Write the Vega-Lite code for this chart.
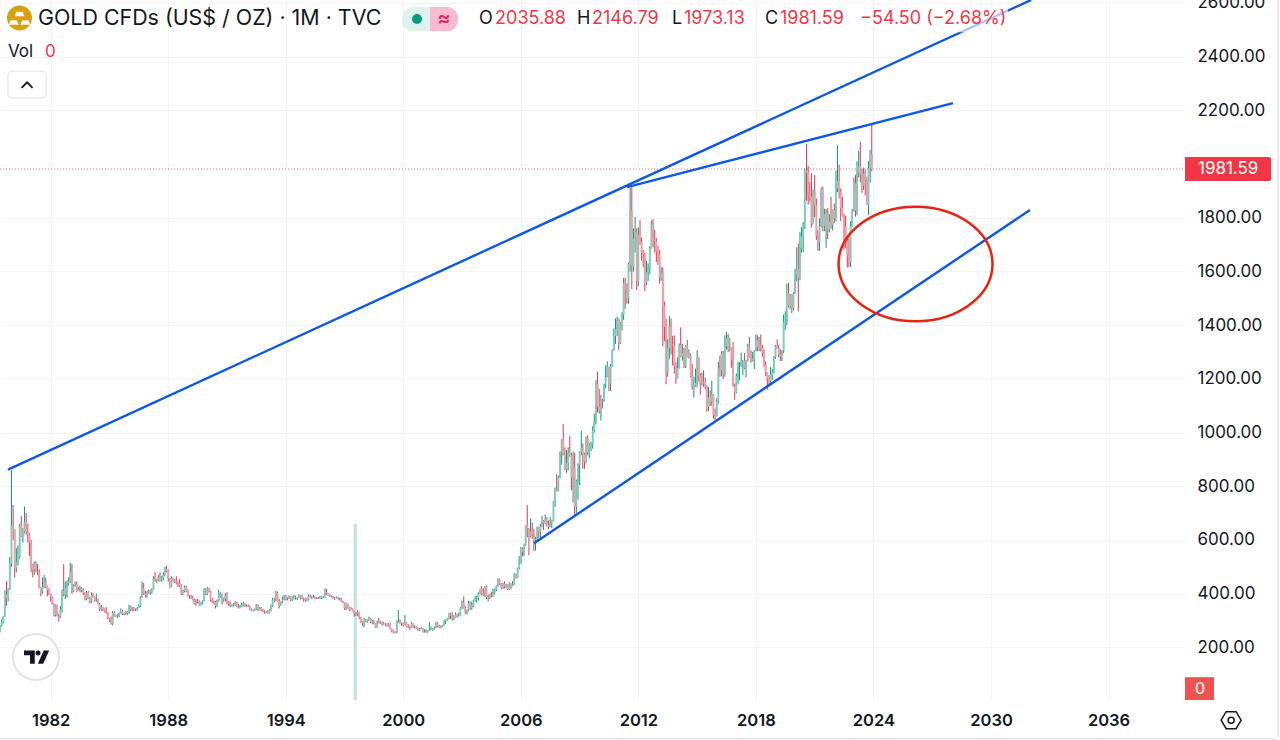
{
"$schema":"https://vega.github.io/schema/vega-lite/v6.json",
"width":1185,"height":700,
"autosize":{"type":"none"},
"padding":{"left":0,"top":0,"right":95,"bottom":40},
"background":"#ffffff",
"config":{"view":{"stroke":null},"font":"Inter"},
"datasets":{"candles":[
{"date":"1979-06","o":258,"h":283,"l":256,"c":278},{"date":"1979-07","o":278,"h":304,"l":277,"c":296},{"date":"1979-08","o":296,"h":316,"l":289,"c":315},{"date":"1979-09","o":315,"h":412,"l":315,"c":397},{"date":"1979-10","o":397,"h":447,"l":355,"c":382},{"date":"1979-11","o":382,"h":420,"l":372,"c":416},{"date":"1979-12","o":416,"h":537,"l":415,"c":512},
{"date":"1980-01","o":512,"h":860,"l":500,"c":653},{"date":"1980-02","o":653,"h":730,"l":600,"c":637},{"date":"1980-03","o":637,"h":640,"l":460,"c":494},{"date":"1980-04","o":494,"h":570,"l":480,"c":517},{"date":"1980-05","o":517,"h":580,"l":505,"c":535},{"date":"1980-06","o":535,"h":660,"l":530,"c":653},{"date":"1980-07","o":653,"h":690,"l":610,"c":614},{"date":"1980-08","o":614,"h":645,"l":590,"c":631},{"date":"1980-09","o":631,"h":725,"l":625,"c":667},{"date":"1980-10","o":667,"h":700,"l":620,"c":630},{"date":"1980-11","o":630,"h":660,"l":590,"c":620},{"date":"1980-12","o":620,"h":625,"l":540,"c":590},
{"date":"1981-01","o":590,"h":600,"l":480,"c":506},{"date":"1981-02","o":506,"h":510,"l":460,"c":490},{"date":"1981-03","o":490,"h":520,"l":470,"c":513},{"date":"1981-04","o":513,"h":520,"l":480,"c":483},{"date":"1981-05","o":483,"h":510,"l":470,"c":480},{"date":"1981-06","o":480,"h":490,"l":420,"c":422},{"date":"1981-07","o":422,"h":425,"l":390,"c":408},{"date":"1981-08","o":408,"h":460,"l":400,"c":425},{"date":"1981-09","o":425,"h":470,"l":420,"c":443},{"date":"1981-10","o":443,"h":460,"l":420,"c":428},{"date":"1981-11","o":428,"h":430,"l":390,"c":414},{"date":"1981-12","o":414,"h":420,"l":395,"c":400},
{"date":"1982-01","o":400,"h":400,"l":370,"c":387},{"date":"1982-02","o":387,"h":390,"l":360,"c":363},{"date":"1982-03","o":363,"h":365,"l":315,"c":320},{"date":"1982-04","o":320,"h":360,"l":315,"c":358},{"date":"1982-05","o":358,"h":360,"l":315,"c":318},{"date":"1982-06","o":318,"h":325,"l":296,"c":316},{"date":"1982-07","o":316,"h":355,"l":310,"c":342},{"date":"1982-08","o":342,"h":415,"l":330,"c":410},{"date":"1982-09","o":410,"h":510,"l":390,"c":397},{"date":"1982-10","o":397,"h":445,"l":380,"c":423},{"date":"1982-11","o":423,"h":450,"l":385,"c":440},{"date":"1982-12","o":440,"h":460,"l":430,"c":447},
{"date":"1983-01","o":447,"h":515,"l":440,"c":480},{"date":"1983-02","o":480,"h":512,"l":400,"c":410},{"date":"1983-03","o":410,"h":435,"l":405,"c":430},{"date":"1983-04","o":430,"h":445,"l":425,"c":435},{"date":"1983-05","o":435,"h":445,"l":405,"c":410},{"date":"1983-06","o":410,"h":425,"l":410,"c":416},{"date":"1983-07","o":416,"h":430,"l":405,"c":420},{"date":"1983-08","o":420,"h":425,"l":405,"c":414},{"date":"1983-09","o":414,"h":420,"l":395,"c":402},{"date":"1983-10","o":402,"h":405,"l":375,"c":382},{"date":"1983-11","o":382,"h":410,"l":375,"c":405},{"date":"1983-12","o":405,"h":410,"l":380,"c":382},
{"date":"1984-01","o":382,"h":388,"l":365,"c":372},{"date":"1984-02","o":372,"h":405,"l":365,"c":395},{"date":"1984-03","o":395,"h":402,"l":385,"c":388},{"date":"1984-04","o":388,"h":390,"l":370,"c":376},{"date":"1984-05","o":376,"h":400,"l":370,"c":378},{"date":"1984-06","o":378,"h":382,"l":360,"c":362},{"date":"1984-07","o":362,"h":365,"l":335,"c":342},{"date":"1984-08","o":342,"h":358,"l":335,"c":348},{"date":"1984-09","o":348,"h":350,"l":335,"c":343},{"date":"1984-10","o":343,"h":345,"l":330,"c":333},{"date":"1984-11","o":333,"h":350,"l":325,"c":330},{"date":"1984-12","o":330,"h":332,"l":305,"c":308},
{"date":"1985-01","o":308,"h":310,"l":295,"c":303},{"date":"1985-02","o":303,"h":315,"l":285,"c":288},{"date":"1985-03","o":288,"h":335,"l":282,"c":328},{"date":"1985-04","o":328,"h":335,"l":315,"c":320},{"date":"1985-05","o":320,"h":320,"l":312,"c":315},{"date":"1985-06","o":315,"h":325,"l":310,"c":318},{"date":"1985-07","o":318,"h":330,"l":312,"c":327},{"date":"1985-08","o":327,"h":345,"l":325,"c":335},{"date":"1985-09","o":335,"h":340,"l":320,"c":325},{"date":"1985-10","o":325,"h":330,"l":320,"c":327},{"date":"1985-11","o":327,"h":335,"l":320,"c":332},{"date":"1985-12","o":332,"h":335,"l":320,"c":327},
{"date":"1986-01","o":327,"h":360,"l":325,"c":350},{"date":"1986-02","o":350,"h":355,"l":335,"c":340},{"date":"1986-03","o":340,"h":350,"l":335,"c":345},{"date":"1986-04","o":345,"h":350,"l":335,"c":342},{"date":"1986-05","o":342,"h":345,"l":335,"c":340},{"date":"1986-06","o":340,"h":350,"l":336,"c":346},{"date":"1986-07","o":346,"h":360,"l":345,"c":355},{"date":"1986-08","o":355,"h":390,"l":350,"c":385},{"date":"1986-09","o":385,"h":445,"l":385,"c":420},{"date":"1986-10","o":420,"h":440,"l":395,"c":400},{"date":"1986-11","o":400,"h":410,"l":385,"c":395},{"date":"1986-12","o":395,"h":410,"l":385,"c":405},
{"date":"1987-01","o":405,"h":415,"l":400,"c":410},{"date":"1987-02","o":410,"h":415,"l":395,"c":405},{"date":"1987-03","o":405,"h":420,"l":400,"c":415},{"date":"1987-04","o":415,"h":465,"l":415,"c":455},{"date":"1987-05","o":455,"h":480,"l":445,"c":450},{"date":"1987-06","o":450,"h":455,"l":440,"c":448},{"date":"1987-07","o":448,"h":470,"l":445,"c":462},{"date":"1987-08","o":462,"h":480,"l":445,"c":453},{"date":"1987-09","o":453,"h":465,"l":445,"c":460},{"date":"1987-10","o":460,"h":480,"l":450,"c":470},{"date":"1987-11","o":470,"h":500,"l":465,"c":492},{"date":"1987-12","o":492,"h":505,"l":480,"c":485},
{"date":"1988-01","o":485,"h":490,"l":445,"c":458},{"date":"1988-02","o":458,"h":460,"l":420,"c":426},{"date":"1988-03","o":426,"h":465,"l":425,"c":458},{"date":"1988-04","o":458,"h":460,"l":445,"c":450},{"date":"1988-05","o":450,"h":455,"l":440,"c":445},{"date":"1988-06","o":445,"h":465,"l":435,"c":440},{"date":"1988-07","o":440,"h":445,"l":425,"c":438},{"date":"1988-08","o":438,"h":455,"l":425,"c":430},{"date":"1988-09","o":430,"h":435,"l":395,"c":400},{"date":"1988-10","o":400,"h":415,"l":395,"c":410},{"date":"1988-11","o":410,"h":430,"l":405,"c":425},{"date":"1988-12","o":425,"h":430,"l":405,"c":410},
{"date":"1989-01","o":410,"h":415,"l":390,"c":393},{"date":"1989-02","o":393,"h":395,"l":382,"c":390},{"date":"1989-03","o":390,"h":395,"l":380,"c":385},{"date":"1989-04","o":385,"h":392,"l":375,"c":378},{"date":"1989-05","o":378,"h":382,"l":360,"c":362},{"date":"1989-06","o":362,"h":380,"l":355,"c":372},{"date":"1989-07","o":372,"h":380,"l":365,"c":370},{"date":"1989-08","o":370,"h":375,"l":355,"c":360},{"date":"1989-09","o":360,"h":370,"l":355,"c":367},{"date":"1989-10","o":367,"h":375,"l":360,"c":372},{"date":"1989-11","o":372,"h":420,"l":370,"c":415},{"date":"1989-12","o":415,"h":420,"l":395,"c":400},
{"date":"1990-01","o":400,"h":425,"l":395,"c":420},{"date":"1990-02","o":420,"h":422,"l":405,"c":410},{"date":"1990-03","o":410,"h":412,"l":370,"c":378},{"date":"1990-04","o":378,"h":385,"l":365,"c":370},{"date":"1990-05","o":370,"h":375,"l":360,"c":368},{"date":"1990-06","o":368,"h":372,"l":345,"c":355},{"date":"1990-07","o":355,"h":378,"l":350,"c":375},{"date":"1990-08","o":375,"h":415,"l":370,"c":390},{"date":"1990-09","o":390,"h":405,"l":385,"c":398},{"date":"1990-10","o":398,"h":400,"l":360,"c":378},{"date":"1990-11","o":378,"h":385,"l":370,"c":381},{"date":"1990-12","o":381,"h":402,"l":370,"c":395},
{"date":"1991-01","o":395,"h":405,"l":360,"c":368},{"date":"1991-02","o":368,"h":372,"l":355,"c":363},{"date":"1991-03","o":363,"h":372,"l":350,"c":355},{"date":"1991-04","o":355,"h":360,"l":352,"c":357},{"date":"1991-05","o":357,"h":365,"l":352,"c":360},{"date":"1991-06","o":360,"h":372,"l":355,"c":368},{"date":"1991-07","o":368,"h":370,"l":350,"c":352},{"date":"1991-08","o":352,"h":362,"l":345,"c":350},{"date":"1991-09","o":350,"h":358,"l":345,"c":354},{"date":"1991-10","o":354,"h":365,"l":350,"c":358},{"date":"1991-11","o":358,"h":370,"l":352,"c":366},{"date":"1991-12","o":366,"h":366,"l":350,"c":353},
{"date":"1992-01","o":353,"h":360,"l":350,"c":354},{"date":"1992-02","o":354,"h":360,"l":350,"c":353},{"date":"1992-03","o":353,"h":355,"l":340,"c":342},{"date":"1992-04","o":342,"h":345,"l":335,"c":336},{"date":"1992-05","o":336,"h":342,"l":334,"c":337},{"date":"1992-06","o":337,"h":345,"l":335,"c":344},{"date":"1992-07","o":344,"h":362,"l":340,"c":357},{"date":"1992-08","o":357,"h":360,"l":335,"c":340},{"date":"1992-09","o":340,"h":350,"l":338,"c":347},{"date":"1992-10","o":347,"h":350,"l":335,"c":339},{"date":"1992-11","o":339,"h":343,"l":331,"c":333},{"date":"1992-12","o":333,"h":338,"l":326,"c":332},
{"date":"1993-01","o":332,"h":334,"l":326,"c":330},{"date":"1993-02","o":330,"h":338,"l":326,"c":328},{"date":"1993-03","o":328,"h":342,"l":326,"c":337},{"date":"1993-04","o":337,"h":360,"l":335,"c":355},{"date":"1993-05","o":355,"h":385,"l":350,"c":378},{"date":"1993-06","o":378,"h":385,"l":368,"c":374},{"date":"1993-07","o":374,"h":410,"l":372,"c":402},{"date":"1993-08","o":402,"h":408,"l":370,"c":372},{"date":"1993-09","o":372,"h":380,"l":345,"c":355},{"date":"1993-10","o":355,"h":372,"l":355,"c":369},{"date":"1993-11","o":369,"h":388,"l":365,"c":379},{"date":"1993-12","o":379,"h":395,"l":375,"c":390},
{"date":"1994-01","o":390,"h":395,"l":375,"c":381},{"date":"1994-02","o":381,"h":386,"l":375,"c":380},{"date":"1994-03","o":380,"h":394,"l":380,"c":390},{"date":"1994-04","o":390,"h":390,"l":372,"c":376},{"date":"1994-05","o":376,"h":390,"l":372,"c":386},{"date":"1994-06","o":386,"h":396,"l":378,"c":386},{"date":"1994-07","o":386,"h":392,"l":378,"c":384},{"date":"1994-08","o":384,"h":388,"l":376,"c":385},{"date":"1994-09","o":385,"h":398,"l":385,"c":394},{"date":"1994-10","o":394,"h":395,"l":378,"c":383},{"date":"1994-11","o":383,"h":396,"l":380,"c":384},{"date":"1994-12","o":384,"h":385,"l":370,"c":383},
{"date":"1995-01","o":383,"h":385,"l":370,"c":375},{"date":"1995-02","o":375,"h":384,"l":372,"c":376},{"date":"1995-03","o":376,"h":397,"l":375,"c":391},{"date":"1995-04","o":391,"h":396,"l":385,"c":390},{"date":"1995-05","o":390,"h":393,"l":380,"c":386},{"date":"1995-06","o":386,"h":396,"l":385,"c":387},{"date":"1995-07","o":387,"h":390,"l":380,"c":383},{"date":"1995-08","o":383,"h":388,"l":380,"c":382},{"date":"1995-09","o":382,"h":388,"l":380,"c":384},{"date":"1995-10","o":384,"h":392,"l":380,"c":383},{"date":"1995-11","o":383,"h":390,"l":380,"c":387},{"date":"1995-12","o":387,"h":391,"l":384,"c":387},
{"date":"1996-01","o":387,"h":420,"l":386,"c":405},{"date":"1996-02","o":405,"h":418,"l":396,"c":400},{"date":"1996-03","o":400,"h":402,"l":392,"c":396},{"date":"1996-04","o":396,"h":397,"l":388,"c":392},{"date":"1996-05","o":392,"h":394,"l":386,"c":391},{"date":"1996-06","o":391,"h":391,"l":380,"c":382},{"date":"1996-07","o":382,"h":388,"l":377,"c":385},{"date":"1996-08","o":385,"h":390,"l":382,"c":387},{"date":"1996-09","o":387,"h":388,"l":378,"c":379},{"date":"1996-10","o":379,"h":384,"l":375,"c":379},{"date":"1996-11","o":379,"h":385,"l":370,"c":371},{"date":"1996-12","o":371,"h":374,"l":365,"c":369},
{"date":"1997-01","o":369,"h":369,"l":340,"c":346},{"date":"1997-02","o":346,"h":366,"l":340,"c":362},{"date":"1997-03","o":362,"h":363,"l":345,"c":348},{"date":"1997-04","o":348,"h":350,"l":335,"c":340},{"date":"1997-05","o":340,"h":350,"l":338,"c":345},{"date":"1997-06","o":345,"h":345,"l":334,"c":336},{"date":"1997-07","o":336,"h":336,"l":315,"c":326},{"date":"1997-08","o":326,"h":332,"l":318,"c":325},{"date":"1997-09","o":325,"h":337,"l":316,"c":332},{"date":"1997-10","o":332,"h":333,"l":305,"c":311},{"date":"1997-11","o":311,"h":312,"l":290,"c":296},{"date":"1997-12","o":296,"h":297,"l":280,"c":290},
{"date":"1998-01","o":290,"h":310,"l":275,"c":304},{"date":"1998-02","o":304,"h":305,"l":293,"c":297},{"date":"1998-03","o":297,"h":304,"l":292,"c":301},{"date":"1998-04","o":301,"h":315,"l":298,"c":308},{"date":"1998-05","o":308,"h":310,"l":290,"c":294},{"date":"1998-06","o":294,"h":302,"l":286,"c":297},{"date":"1998-07","o":297,"h":302,"l":286,"c":288},{"date":"1998-08","o":288,"h":290,"l":272,"c":273},{"date":"1998-09","o":273,"h":300,"l":273,"c":293},{"date":"1998-10","o":293,"h":310,"l":288,"c":292},{"date":"1998-11","o":292,"h":300,"l":288,"c":295},{"date":"1998-12","o":295,"h":295,"l":280,"c":288},
{"date":"1999-01","o":288,"h":295,"l":284,"c":287},{"date":"1999-02","o":287,"h":290,"l":280,"c":287},{"date":"1999-03","o":287,"h":290,"l":277,"c":280},{"date":"1999-04","o":280,"h":290,"l":278,"c":286},{"date":"1999-05","o":286,"h":290,"l":267,"c":269},{"date":"1999-06","o":269,"h":270,"l":256,"c":262},{"date":"1999-07","o":262,"h":264,"l":252,"c":255},{"date":"1999-08","o":255,"h":260,"l":252,"c":254},{"date":"1999-09","o":254,"h":300,"l":252,"c":299},{"date":"1999-10","o":299,"h":339,"l":292,"c":299},{"date":"1999-11","o":299,"h":305,"l":288,"c":291},{"date":"1999-12","o":291,"h":292,"l":280,"c":290},
{"date":"2000-01","o":290,"h":292,"l":278,"c":283},{"date":"2000-02","o":283,"h":320,"l":282,"c":293},{"date":"2000-03","o":293,"h":295,"l":275,"c":277},{"date":"2000-04","o":277,"h":287,"l":272,"c":274},{"date":"2000-05","o":274,"h":279,"l":265,"c":272},{"date":"2000-06","o":272,"h":295,"l":271,"c":290},{"date":"2000-07","o":290,"h":290,"l":273,"c":277},{"date":"2000-08","o":277,"h":283,"l":270,"c":278},{"date":"2000-09","o":278,"h":278,"l":268,"c":270},{"date":"2000-10","o":270,"h":275,"l":262,"c":264},{"date":"2000-11","o":264,"h":273,"l":260,"c":270},{"date":"2000-12","o":270,"h":276,"l":268,"c":273},
{"date":"2001-01","o":273,"h":273,"l":255,"c":265},{"date":"2001-02","o":265,"h":268,"l":255,"c":267},{"date":"2001-03","o":267,"h":269,"l":255,"c":258},{"date":"2001-04","o":258,"h":265,"l":254,"c":263},{"date":"2001-05","o":263,"h":295,"l":262,"c":266},{"date":"2001-06","o":266,"h":278,"l":263,"c":270},{"date":"2001-07","o":270,"h":272,"l":262,"c":265},{"date":"2001-08","o":265,"h":278,"l":264,"c":273},{"date":"2001-09","o":273,"h":295,"l":271,"c":293},{"date":"2001-10","o":293,"h":295,"l":275,"c":279},{"date":"2001-11","o":279,"h":284,"l":272,"c":274},{"date":"2001-12","o":274,"h":282,"l":271,"c":279},
{"date":"2002-01","o":279,"h":283,"l":276,"c":282},{"date":"2002-02","o":282,"h":303,"l":281,"c":296},{"date":"2002-03","o":296,"h":304,"l":287,"c":302},{"date":"2002-04","o":302,"h":310,"l":299,"c":308},{"date":"2002-05","o":308,"h":328,"l":305,"c":326},{"date":"2002-06","o":326,"h":330,"l":305,"c":318},{"date":"2002-07","o":318,"h":330,"l":300,"c":304},{"date":"2002-08","o":304,"h":320,"l":301,"c":312},{"date":"2002-09","o":312,"h":330,"l":311,"c":323},{"date":"2002-10","o":323,"h":325,"l":310,"c":316},{"date":"2002-11","o":316,"h":330,"l":315,"c":317},{"date":"2002-12","o":317,"h":350,"l":316,"c":347},
{"date":"2003-01","o":347,"h":375,"l":343,"c":367},{"date":"2003-02","o":367,"h":390,"l":345,"c":347},{"date":"2003-03","o":347,"h":355,"l":325,"c":335},{"date":"2003-04","o":335,"h":341,"l":322,"c":337},{"date":"2003-05","o":337,"h":374,"l":334,"c":364},{"date":"2003-06","o":364,"h":372,"l":340,"c":346},{"date":"2003-07","o":346,"h":370,"l":340,"c":355},{"date":"2003-08","o":355,"h":378,"l":350,"c":375},{"date":"2003-09","o":375,"h":390,"l":370,"c":383},{"date":"2003-10","o":383,"h":392,"l":367,"c":386},{"date":"2003-11","o":386,"h":405,"l":375,"c":398},{"date":"2003-12","o":398,"h":417,"l":398,"c":416},
{"date":"2004-01","o":416,"h":428,"l":394,"c":400},{"date":"2004-02","o":400,"h":420,"l":390,"c":396},{"date":"2004-03","o":396,"h":429,"l":388,"c":426},{"date":"2004-04","o":426,"h":430,"l":380,"c":388},{"date":"2004-05","o":388,"h":396,"l":371,"c":394},{"date":"2004-06","o":394,"h":400,"l":380,"c":392},{"date":"2004-07","o":392,"h":407,"l":386,"c":391},{"date":"2004-08","o":391,"h":418,"l":388,"c":408},{"date":"2004-09","o":408,"h":420,"l":398,"c":415},{"date":"2004-10","o":415,"h":431,"l":410,"c":428},{"date":"2004-11","o":428,"h":457,"l":426,"c":453},{"date":"2004-12","o":453,"h":456,"l":432,"c":438},
{"date":"2005-01","o":438,"h":440,"l":416,"c":422},{"date":"2005-02","o":422,"h":441,"l":418,"c":435},{"date":"2005-03","o":435,"h":446,"l":420,"c":427},{"date":"2005-04","o":427,"h":437,"l":420,"c":435},{"date":"2005-05","o":435,"h":435,"l":413,"c":417},{"date":"2005-06","o":417,"h":443,"l":414,"c":437},{"date":"2005-07","o":437,"h":438,"l":416,"c":430},{"date":"2005-08","o":430,"h":447,"l":428,"c":433},{"date":"2005-09","o":433,"h":476,"l":432,"c":473},{"date":"2005-10","o":473,"h":475,"l":456,"c":459},{"date":"2005-11","o":459,"h":497,"l":458,"c":495},{"date":"2005-12","o":495,"h":540,"l":490,"c":513},
{"date":"2006-01","o":513,"h":574,"l":512,"c":568},{"date":"2006-02","o":568,"h":572,"l":539,"c":556},{"date":"2006-03","o":556,"h":586,"l":540,"c":582},{"date":"2006-04","o":582,"h":654,"l":579,"c":654},{"date":"2006-05","o":654,"h":730,"l":610,"c":643},{"date":"2006-06","o":643,"h":645,"l":543,"c":614},{"date":"2006-07","o":614,"h":680,"l":610,"c":632},{"date":"2006-08","o":632,"h":665,"l":605,"c":623},{"date":"2006-09","o":623,"h":640,"l":560,"c":599},{"date":"2006-10","o":599,"h":612,"l":560,"c":604},{"date":"2006-11","o":604,"h":650,"l":597,"c":648},{"date":"2006-12","o":648,"h":650,"l":606,"c":632},
{"date":"2007-01","o":632,"h":660,"l":606,"c":650},{"date":"2007-02","o":650,"h":690,"l":650,"c":672},{"date":"2007-03","o":672,"h":674,"l":637,"c":662},{"date":"2007-04","o":662,"h":695,"l":660,"c":680},{"date":"2007-05","o":680,"h":685,"l":650,"c":657},{"date":"2007-06","o":657,"h":672,"l":640,"c":650},{"date":"2007-07","o":650,"h":685,"l":648,"c":665},{"date":"2007-08","o":665,"h":675,"l":645,"c":672},{"date":"2007-09","o":672,"h":745,"l":670,"c":743},{"date":"2007-10","o":743,"h":795,"l":723,"c":790},{"date":"2007-11","o":790,"h":845,"l":780,"c":783},{"date":"2007-12","o":783,"h":840,"l":780,"c":834},
{"date":"2008-01","o":834,"h":930,"l":830,"c":925},{"date":"2008-02","o":925,"h":975,"l":880,"c":971},{"date":"2008-03","o":971,"h":1032,"l":915,"c":917},{"date":"2008-04","o":917,"h":945,"l":860,"c":864},{"date":"2008-05","o":864,"h":935,"l":850,"c":886},{"date":"2008-06","o":886,"h":945,"l":860,"c":925},{"date":"2008-07","o":925,"h":988,"l":910,"c":915},{"date":"2008-08","o":915,"h":925,"l":785,"c":832},{"date":"2008-09","o":832,"h":930,"l":740,"c":871},{"date":"2008-10","o":871,"h":925,"l":685,"c":725},{"date":"2008-11","o":725,"h":825,"l":700,"c":818},{"date":"2008-12","o":818,"h":885,"l":750,"c":880},
{"date":"2009-01","o":880,"h":930,"l":805,"c":928},{"date":"2009-02","o":928,"h":1007,"l":915,"c":942},{"date":"2009-03","o":942,"h":960,"l":865,"c":920},{"date":"2009-04","o":920,"h":925,"l":865,"c":890},{"date":"2009-05","o":890,"h":985,"l":885,"c":978},{"date":"2009-06","o":978,"h":990,"l":915,"c":926},{"date":"2009-07","o":926,"h":960,"l":905,"c":953},{"date":"2009-08","o":953,"h":965,"l":930,"c":955},{"date":"2009-09","o":955,"h":1025,"l":940,"c":1008},{"date":"2009-10","o":1008,"h":1070,"l":1000,"c":1040},{"date":"2009-11","o":1040,"h":1195,"l":1030,"c":1180},{"date":"2009-12","o":1180,"h":1227,"l":1075,"c":1096},
{"date":"2010-01","o":1096,"h":1163,"l":1070,"c":1082},{"date":"2010-02","o":1082,"h":1140,"l":1045,"c":1118},{"date":"2010-03","o":1118,"h":1125,"l":1090,"c":1115},{"date":"2010-04","o":1115,"h":1182,"l":1115,"c":1179},{"date":"2010-05","o":1179,"h":1250,"l":1165,"c":1207},{"date":"2010-06","o":1207,"h":1265,"l":1205,"c":1245},{"date":"2010-07","o":1245,"h":1245,"l":1155,"c":1181},{"date":"2010-08","o":1181,"h":1255,"l":1155,"c":1247},{"date":"2010-09","o":1247,"h":1310,"l":1245,"c":1307},{"date":"2010-10","o":1307,"h":1388,"l":1305,"c":1359},{"date":"2010-11","o":1359,"h":1425,"l":1330,"c":1385},{"date":"2010-12","o":1385,"h":1432,"l":1360,"c":1421},
{"date":"2011-01","o":1421,"h":1425,"l":1308,"c":1333},{"date":"2011-02","o":1333,"h":1412,"l":1330,"c":1410},{"date":"2011-03","o":1410,"h":1448,"l":1380,"c":1439},{"date":"2011-04","o":1439,"h":1576,"l":1420,"c":1556},{"date":"2011-05","o":1556,"h":1577,"l":1462,"c":1536},{"date":"2011-06","o":1536,"h":1555,"l":1480,"c":1500},{"date":"2011-07","o":1500,"h":1632,"l":1480,"c":1628},{"date":"2011-08","o":1628,"h":1912,"l":1600,"c":1826},{"date":"2011-09","o":1826,"h":1921,"l":1535,"c":1620},{"date":"2011-10","o":1620,"h":1760,"l":1600,"c":1722},{"date":"2011-11","o":1722,"h":1803,"l":1670,"c":1746},{"date":"2011-12","o":1746,"h":1760,"l":1531,"c":1564},
{"date":"2012-01","o":1564,"h":1764,"l":1545,"c":1738},{"date":"2012-02","o":1738,"h":1791,"l":1700,"c":1711},{"date":"2012-03","o":1711,"h":1727,"l":1640,"c":1669},{"date":"2012-04","o":1669,"h":1680,"l":1615,"c":1664},{"date":"2012-05","o":1664,"h":1670,"l":1527,"c":1559},{"date":"2012-06","o":1559,"h":1640,"l":1550,"c":1597},{"date":"2012-07","o":1597,"h":1630,"l":1565,"c":1614},{"date":"2012-08","o":1614,"h":1695,"l":1590,"c":1685},{"date":"2012-09","o":1685,"h":1790,"l":1685,"c":1776},{"date":"2012-10","o":1776,"h":1795,"l":1690,"c":1718},{"date":"2012-11","o":1718,"h":1755,"l":1670,"c":1712},{"date":"2012-12","o":1712,"h":1725,"l":1635,"c":1675},
{"date":"2013-01","o":1675,"h":1695,"l":1625,"c":1663},{"date":"2013-02","o":1663,"h":1680,"l":1555,"c":1578},{"date":"2013-03","o":1578,"h":1617,"l":1565,"c":1595},{"date":"2013-04","o":1595,"h":1615,"l":1321,"c":1472},{"date":"2013-05","o":1472,"h":1488,"l":1340,"c":1393},{"date":"2013-06","o":1393,"h":1425,"l":1180,"c":1224},{"date":"2013-07","o":1224,"h":1348,"l":1208,"c":1314},{"date":"2013-08","o":1314,"h":1434,"l":1275,"c":1395},{"date":"2013-09","o":1395,"h":1425,"l":1290,"c":1327},{"date":"2013-10","o":1327,"h":1360,"l":1250,"c":1323},{"date":"2013-11","o":1323,"h":1362,"l":1220,"c":1250},{"date":"2013-12","o":1250,"h":1262,"l":1182,"c":1202},
{"date":"2014-01","o":1202,"h":1280,"l":1202,"c":1240},{"date":"2014-02","o":1240,"h":1332,"l":1238,"c":1326},{"date":"2014-03","o":1326,"h":1392,"l":1280,"c":1284},{"date":"2014-04","o":1284,"h":1331,"l":1268,"c":1296},{"date":"2014-05","o":1296,"h":1315,"l":1240,"c":1246},{"date":"2014-06","o":1246,"h":1326,"l":1240,"c":1322},{"date":"2014-07","o":1322,"h":1345,"l":1280,"c":1282},{"date":"2014-08","o":1282,"h":1310,"l":1275,"c":1287},{"date":"2014-09","o":1287,"h":1295,"l":1205,"c":1210},{"date":"2014-10","o":1210,"h":1255,"l":1160,"c":1172},{"date":"2014-11","o":1172,"h":1208,"l":1130,"c":1175},{"date":"2014-12","o":1175,"h":1238,"l":1170,"c":1184},
{"date":"2015-01","o":1184,"h":1307,"l":1168,"c":1279},{"date":"2015-02","o":1279,"h":1280,"l":1190,"c":1213},{"date":"2015-03","o":1213,"h":1220,"l":1141,"c":1183},{"date":"2015-04","o":1183,"h":1224,"l":1175,"c":1182},{"date":"2015-05","o":1182,"h":1232,"l":1170,"c":1190},{"date":"2015-06","o":1190,"h":1205,"l":1162,"c":1172},{"date":"2015-07","o":1172,"h":1175,"l":1077,"c":1095},{"date":"2015-08","o":1095,"h":1170,"l":1080,"c":1132},{"date":"2015-09","o":1132,"h":1157,"l":1098,"c":1115},{"date":"2015-10","o":1115,"h":1192,"l":1100,"c":1142},{"date":"2015-11","o":1142,"h":1143,"l":1052,"c":1065},{"date":"2015-12","o":1065,"h":1090,"l":1046,"c":1061},
{"date":"2016-01","o":1061,"h":1128,"l":1060,"c":1118},{"date":"2016-02","o":1118,"h":1263,"l":1110,"c":1238},{"date":"2016-03","o":1238,"h":1287,"l":1208,"c":1233},{"date":"2016-04","o":1233,"h":1303,"l":1209,"c":1292},{"date":"2016-05","o":1292,"h":1304,"l":1200,"c":1215},{"date":"2016-06","o":1215,"h":1362,"l":1208,"c":1322},{"date":"2016-07","o":1322,"h":1375,"l":1310,"c":1351},{"date":"2016-08","o":1351,"h":1367,"l":1300,"c":1309},{"date":"2016-09","o":1309,"h":1352,"l":1302,"c":1316},{"date":"2016-10","o":1316,"h":1317,"l":1241,"c":1272},{"date":"2016-11","o":1272,"h":1338,"l":1171,"c":1173},{"date":"2016-12","o":1173,"h":1182,"l":1122,"c":1151},
{"date":"2017-01","o":1151,"h":1220,"l":1147,"c":1211},{"date":"2017-02","o":1211,"h":1264,"l":1180,"c":1249},{"date":"2017-03","o":1249,"h":1262,"l":1195,"c":1249},{"date":"2017-04","o":1249,"h":1297,"l":1245,"c":1268},{"date":"2017-05","o":1268,"h":1270,"l":1214,"c":1268},{"date":"2017-06","o":1268,"h":1296,"l":1236,"c":1241},{"date":"2017-07","o":1241,"h":1270,"l":1205,"c":1268},{"date":"2017-08","o":1268,"h":1330,"l":1265,"c":1320},{"date":"2017-09","o":1320,"h":1357,"l":1279,"c":1280},{"date":"2017-10","o":1280,"h":1306,"l":1260,"c":1270},{"date":"2017-11","o":1270,"h":1300,"l":1265,"c":1275},{"date":"2017-12","o":1275,"h":1307,"l":1236,"c":1303},
{"date":"2018-01","o":1303,"h":1366,"l":1303,"c":1345},{"date":"2018-02","o":1345,"h":1362,"l":1303,"c":1318},{"date":"2018-03","o":1318,"h":1356,"l":1303,"c":1323},{"date":"2018-04","o":1323,"h":1365,"l":1302,"c":1315},{"date":"2018-05","o":1315,"h":1326,"l":1282,"c":1298},{"date":"2018-06","o":1298,"h":1310,"l":1245,"c":1252},{"date":"2018-07","o":1252,"h":1265,"l":1211,"c":1224},{"date":"2018-08","o":1224,"h":1225,"l":1160,"c":1201},{"date":"2018-09","o":1201,"h":1214,"l":1180,"c":1192},{"date":"2018-10","o":1192,"h":1243,"l":1182,"c":1215},{"date":"2018-11","o":1215,"h":1237,"l":1196,"c":1222},{"date":"2018-12","o":1222,"h":1285,"l":1221,"c":1282},
{"date":"2019-01","o":1282,"h":1326,"l":1275,"c":1321},{"date":"2019-02","o":1321,"h":1347,"l":1312,"c":1313},{"date":"2019-03","o":1313,"h":1325,"l":1280,"c":1292},{"date":"2019-04","o":1292,"h":1310,"l":1266,"c":1283},{"date":"2019-05","o":1283,"h":1306,"l":1266,"c":1305},{"date":"2019-06","o":1305,"h":1440,"l":1296,"c":1409},{"date":"2019-07","o":1409,"h":1452,"l":1382,"c":1413},{"date":"2019-08","o":1413,"h":1555,"l":1400,"c":1520},{"date":"2019-09","o":1520,"h":1557,"l":1466,"c":1472},{"date":"2019-10","o":1472,"h":1517,"l":1459,"c":1513},{"date":"2019-11","o":1513,"h":1515,"l":1445,"c":1464},{"date":"2019-12","o":1464,"h":1523,"l":1455,"c":1517},
{"date":"2020-01","o":1517,"h":1611,"l":1517,"c":1589},{"date":"2020-02","o":1589,"h":1690,"l":1563,"c":1609},{"date":"2020-03","o":1609,"h":1704,"l":1451,"c":1577},{"date":"2020-04","o":1577,"h":1748,"l":1568,"c":1687},{"date":"2020-05","o":1687,"h":1765,"l":1670,"c":1730},{"date":"2020-06","o":1730,"h":1785,"l":1671,"c":1781},{"date":"2020-07","o":1781,"h":1984,"l":1758,"c":1975},{"date":"2020-08","o":1975,"h":2075,"l":1863,"c":1968},{"date":"2020-09","o":1968,"h":1992,"l":1849,"c":1886},{"date":"2020-10","o":1886,"h":1933,"l":1860,"c":1879},{"date":"2020-11","o":1879,"h":1965,"l":1764,"c":1777},{"date":"2020-12","o":1777,"h":1906,"l":1775,"c":1898},
{"date":"2021-01","o":1898,"h":1959,"l":1802,"c":1847},{"date":"2021-02","o":1847,"h":1871,"l":1717,"c":1734},{"date":"2021-03","o":1734,"h":1755,"l":1677,"c":1708},{"date":"2021-04","o":1708,"h":1798,"l":1677,"c":1769},{"date":"2021-05","o":1769,"h":1913,"l":1765,"c":1907},{"date":"2021-06","o":1907,"h":1916,"l":1750,"c":1770},{"date":"2021-07","o":1770,"h":1834,"l":1750,"c":1814},{"date":"2021-08","o":1814,"h":1832,"l":1688,"c":1814},{"date":"2021-09","o":1814,"h":1836,"l":1721,"c":1757},{"date":"2021-10","o":1757,"h":1814,"l":1746,"c":1784},{"date":"2021-11","o":1784,"h":1877,"l":1759,"c":1774},{"date":"2021-12","o":1774,"h":1831,"l":1753,"c":1829},
{"date":"2022-01","o":1829,"h":1853,"l":1780,"c":1797},{"date":"2022-02","o":1797,"h":1976,"l":1786,"c":1909},{"date":"2022-03","o":1909,"h":2070,"l":1895,"c":1937},{"date":"2022-04","o":1937,"h":1998,"l":1872,"c":1897},{"date":"2022-05","o":1897,"h":1910,"l":1787,"c":1837},{"date":"2022-06","o":1837,"h":1879,"l":1805,"c":1807},{"date":"2022-07","o":1807,"h":1815,"l":1681,"c":1766},{"date":"2022-08","o":1766,"h":1808,"l":1688,"c":1711},{"date":"2022-09","o":1711,"h":1735,"l":1615,"c":1661},{"date":"2022-10","o":1661,"h":1730,"l":1617,"c":1633},{"date":"2022-11","o":1633,"h":1787,"l":1616,"c":1769},{"date":"2022-12","o":1769,"h":1833,"l":1765,"c":1824},
{"date":"2023-01","o":1824,"h":1950,"l":1823,"c":1928},{"date":"2023-02","o":1928,"h":1960,"l":1804,"c":1827},{"date":"2023-03","o":1827,"h":2010,"l":1810,"c":1969},{"date":"2023-04","o":1969,"h":2049,"l":1950,"c":1990},{"date":"2023-05","o":1990,"h":2082,"l":1932,"c":1963},{"date":"2023-06","o":1963,"h":1983,"l":1893,"c":1919},{"date":"2023-07","o":1919,"h":1987,"l":1903,"c":1965},{"date":"2023-08","o":1965,"h":1979,"l":1884,"c":1940},{"date":"2023-09","o":1940,"h":1953,"l":1849,"c":1849},{"date":"2023-10","o":1849,"h":2010,"l":1810,"c":1984},{"date":"2023-11","o":1984,"h":2052,"l":1931,"c":2036},{"date":"2023-12","o":2036,"h":2147,"l":1973,"c":1982}
]},
"encoding":{
"x":{"field":"date","type":"temporal","title":null,
"scale":{"type":"utc","domain":["1979-06-01","2039-11-27"],"padding":0},
"axis":{"values":[{"year":1982,"utc":true},{"year":1988,"utc":true},{"year":1994,"utc":true},{"year":2000,"utc":true},{"year":2006,"utc":true},{"year":2012,"utc":true},{"year":2018,"utc":true},{"year":2024,"utc":true},{"year":2030,"utc":true},{"year":2036,"utc":true}],"format":"%Y","formatType":"utc","domain":false,"ticks":false,"grid":true,"gridColor":"#f3f4f6","labelFont":"Inter","labelFontSize":16.5,"labelFontWeight":600,"labelColor":"#131722","labelPadding":12,"labelOverlap":false,"labelFlush":false,"labelBound":false}},
"y":{"field":"price","type":"quantitative","title":null,
"scale":{"domain":[4,2611],"nice":false,"zero":false},
"axis":{"orient":"right","values":[200,400,600,800,1000,1200,1400,1600,1800,2000,2200,2400,2600],"format":".2f","labelExpr":"datum.value==2000?'':datum.label","domain":false,"ticks":false,"grid":true,"gridColor":"#f3f4f6","labelFont":"Inter","labelFontSize":17,"labelColor":"#131722","labelPadding":12,"labelOverlap":false,"labelFlush":false,"labelBound":false}}
},
"layer":[
{"data":{"values":[{"date":"1997-07-20","price":659,"price2":4}]},
 "mark":{"type":"bar","size":3,"color":"#bfe3dd"},
 "encoding":{"y2":{"field":"price2"}}},
{"data":{"values":[{"date":"1979-06-01","date2":"2039-11-27","price":1981.59,"price2":1981.59}]},
 "mark":{"type":"rule","color":"#f23645","strokeDash":[1,2],"strokeWidth":1,"opacity":0.75},
 "encoding":{"x2":{"field":"date2"},"y2":{"field":"price2"}}},
{"data":{"name":"candles"},
 "mark":{"type":"rule","strokeWidth":1},
 "encoding":{
  "y":{"field":"l","type":"quantitative","title":null,"scale":{"domain":[4,2611],"nice":false,"zero":false}},
  "y2":{"field":"h"},
  "color":{"condition":{"test":"datum.c>=datum.o","value":"#089981"},"value":"#e0384f"}}},
{"data":{"name":"candles"},
 "mark":{"type":"bar","size":1.9},
 "encoding":{
  "y":{"field":"o","type":"quantitative","title":null,"scale":{"domain":[4,2611],"nice":false,"zero":false}},
  "y2":{"field":"c"},
  "color":{"condition":{"test":"datum.c>=datum.o","value":"#80cbba"},"value":"#f69aa6"}}},
{"data":{"values":[
  {"date":"1979-10-28","date2":"2032-01-20","price":862,"price2":2611},
  {"date":"2011-06-03","date2":"2028-01-23","price":1914,"price2":2227},
  {"date":"2006-09-05","date2":"2031-12-28","price":588,"price2":1829}]},
 "mark":{"type":"rule","color":"#0b57e8","strokeWidth":2.4},
 "encoding":{"x2":{"field":"date2"},"y2":{"field":"price2"}}},
{"data":{"values":[{"date":"2026-02-24","price":1627.6}]},
 "mark":{"type":"point","shape":"M-1,0A1,0.744,0,1,1,1,0A1,0.744,0,1,1,-1,0Z","size":23700,"filled":false,"stroke":"#e8230f","strokeWidth":2.5,"opacity":1}},
{"data":{"values":[{"date":"2028-03-01","date2":"2030-11-15","price":2491,"price2":2581}]},
 "mark":{"type":"rect","color":"#ffffff","opacity":0.65},
 "encoding":{"x2":{"field":"date2"},"y2":{"field":"price2"}}},
{"data":{"values":[{"date":"1980-05-30","price":2544}]},
 "mark":{"type":"point","shape":"circle","size":625,"filled":true,"color":"#d9a00d","opacity":1}},
{"data":{"values":[{"date":"1980-05-30","price":2559},{"date":"1980-02-12","price":2527},{"date":"1980-09-16","price":2527}]},
 "mark":{"type":"point","shape":"M-1,.45L-.6,-.45H.6L1,.45Z","size":100,"filled":true,"color":"#ffffff","opacity":1}},
{"data":{"values":[{"date":"1981-05-10","price":2540,"label":"GOLD CFDs (US$ / OZ) · 1M · TVC"}]},
 "mark":{"type":"text","font":"Inter","fontSize":21.4,"align":"left","baseline":"middle","color":"#131722"},
 "encoding":{"text":{"field":"label"}}},
{"data":{"values":[{"date":"1979-10-28","price":2417,"label":"Vol"}]},
 "mark":{"type":"text","font":"Inter","fontSize":17,"align":"left","baseline":"middle","color":"#131722"},
 "encoding":{"text":{"field":"label"}}},
{"data":{"values":[{"date":"1981-09-18","price":2417,"label":"0"}]},
 "mark":{"type":"text","font":"Inter","fontSize":17,"align":"left","baseline":"middle","color":"#f23645"},
 "encoding":{"text":{"field":"label"}}},
{"data":{"values":[{"date":"1979-10-28","date2":"1981-10-07","price":2346,"price2":2246}]},
 "mark":{"type":"rect","fill":"#ffffff","stroke":"#e0e3eb","strokeWidth":1,"cornerRadius":4},
 "encoding":{"x2":{"field":"date2"},"y2":{"field":"price2"}}},
{"data":{"values":[{"date":"1980-10-18","price":2294}]},
 "mark":{"type":"point","shape":"M-1,.5L0,-.5L1,.5","size":121,"filled":false,"stroke":"#131722","strokeWidth":1.8,"opacity":1}},
{"data":{"values":[{"date":"1999-12-09","date2":"2001-05-14","price":2495,"price2":2585}]},
 "mark":{"type":"rect","color":"#e0f2ee","cornerRadiusTopLeft":11,"cornerRadiusBottomLeft":11},
 "encoding":{"x2":{"field":"date2"},"y2":{"field":"price2"}}},
{"data":{"values":[{"date":"2001-05-14","date2":"2002-10-17","price":2495,"price2":2585}]},
 "mark":{"type":"rect","color":"#f8bbd0","cornerRadiusTopRight":11,"cornerRadiusBottomRight":11},
 "encoding":{"x2":{"field":"date2"},"y2":{"field":"price2"}}},
{"data":{"values":[{"date":"2000-09-13","price":2540}]},
 "mark":{"type":"point","shape":"circle","size":100,"filled":true,"color":"#089981","opacity":1}},
{"data":{"values":[{"date":"2002-01-30","price":2540,"label":"≈"}]},
 "mark":{"type":"text","font":"Inter","fontSize":20,"fontWeight":600,"align":"center","baseline":"middle","color":"#e91e63"},
 "encoding":{"text":{"field":"label"}}},
{"data":{"values":[{"date":"2003-11-14","price":2540,"label":"O"},{"date":"2008-11-14","price":2540,"label":"H"},{"date":"2013-09-20","price":2540,"label":"L"},{"date":"2018-06-20","price":2540,"label":"C"}]},
 "mark":{"type":"text","font":"Inter","fontSize":18,"align":"left","baseline":"middle","color":"#131722"},
 "encoding":{"text":{"field":"label"}}},
{"data":{"values":[{"date":"2004-09-07","price":2540,"label":"2035.88"},{"date":"2009-08-21","price":2540,"label":"2146.79"},{"date":"2014-05-01","price":2540,"label":"1973.13"},{"date":"2019-03-25","price":2540,"label":"1981.59"},{"date":"2023-04-26","price":2540,"label":"−54.50 (−2.68%)"}]},
 "mark":{"type":"text","font":"Inter","fontSize":18,"align":"left","baseline":"middle","color":"#f23645"},
 "encoding":{"text":{"field":"label"}}},
{"data":{"values":[{"date":"2039-11-27","date2":"2044-04-18","price":1937,"price2":2026}]},
 "mark":{"type":"rect","color":"#f23645","cornerRadiusTopRight":2,"cornerRadiusBottomRight":2},
 "encoding":{"x2":{"field":"date2"},"y2":{"field":"price2"}}},
{"data":{"values":[{"date":"2040-07-26","price":1981.59,"label":"1981.59"}]},
 "mark":{"type":"text","font":"Inter","fontSize":17,"align":"left","baseline":"middle","color":"#ffffff"},
 "encoding":{"text":{"field":"label"}}},
{"data":{"values":[{"date":"2039-11-27","date2":"2041-05-21","price":4,"price2":89}]},
 "mark":{"type":"rect","color":"#ef5350"},
 "encoding":{"x2":{"field":"date2"},"y2":{"field":"price2"}}},
{"data":{"values":[{"date":"2040-09-01","price":46,"label":"0"}]},
 "mark":{"type":"text","font":"Inter","fontSize":16,"align":"center","baseline":"middle","color":"#ffffff"},
 "encoding":{"text":{"field":"label"}}},
{"data":{"values":[{"date":"1981-04-02","price":164}]},
 "mark":{"type":"point","shape":"circle","size":2116,"filled":true,"fill":"#ffffff","stroke":"#e0e3eb","strokeWidth":2,"opacity":1}},
{"data":{"values":[{"date":"1981-04-02","price":164}]},
 "mark":{"type":"point","shape":"M-1,-.55H-.1V.55H-.5V-.15H-1ZM.65,-.55H1.1L.6,.55H.15Z","size":576,"filled":true,"color":"#131722","opacity":1}},
{"data":{"values":[{"date":"1981-05-10","price":179}]},
 "mark":{"type":"point","shape":"circle","size":25,"filled":true,"color":"#131722","opacity":1}},
{"data":{"values":[{"date":"2042-04-05","price":-71}]},
 "mark":{"type":"point","shape":"M-1,0L-.5,-.85H.5L1,0L.5,.85H-.5Z","size":400,"filled":false,"stroke":"#131722","strokeWidth":1.5,"opacity":1}},
{"data":{"values":[{"date":"2042-04-05","price":-71}]},
 "mark":{"type":"point","shape":"circle","size":36,"filled":false,"stroke":"#131722","strokeWidth":1.5,"opacity":1}},
{"data":{"values":[
  {"date":"1979-06-01","date2":"2044-08-05","price":-140,"price2":-140},
  {"date":"2044-08-25","date2":"2044-08-25","price":-135,"price2":2611}]},
 "mark":{"type":"rule","color":"#e3e3e3","strokeWidth":1.5},
 "encoding":{"x2":{"field":"date2"},"y2":{"field":"price2"}}}
]
}
